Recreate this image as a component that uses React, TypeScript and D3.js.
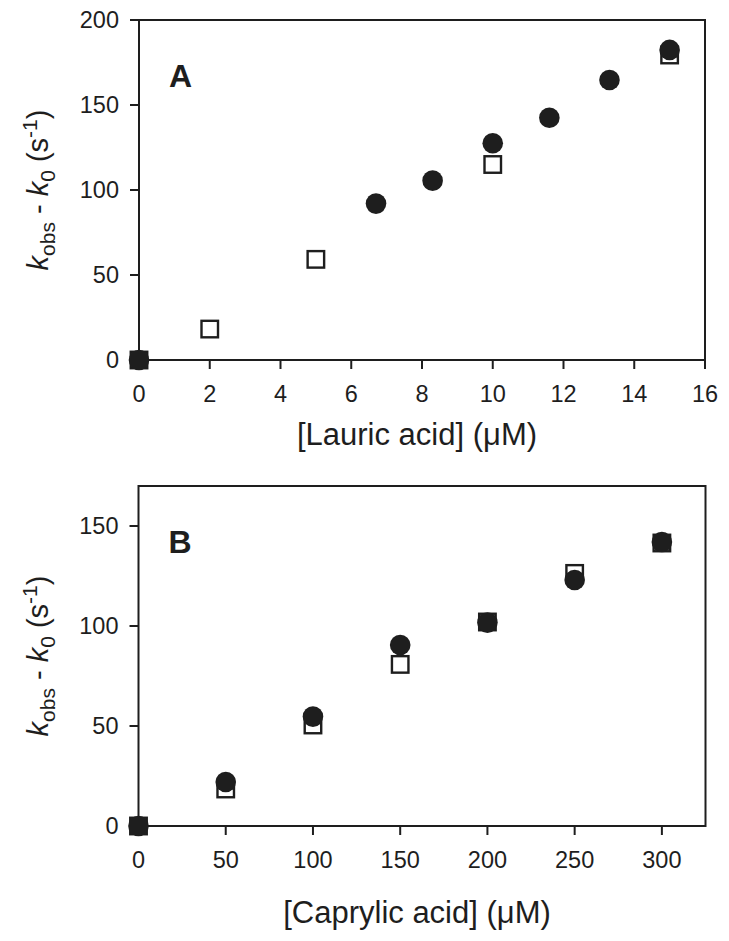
import React from "react";
import * as d3 from "d3";

const lauricCircleX = [0, 6.7, 8.3, 10, 11.6, 13.3, 15];
const lauricCircleY = [0, 92, 105.5, 127.5, 142.5, 164.7, 182.4];
const lauricSquareX = [0, 2, 5, 10, 15];
const lauricSquareY = [0, 18.2, 59.2, 115, 179.4];
const lauricXTicks = [0, 2, 4, 6, 8, 10, 12, 14, 16];
const lauricYTicks = [0, 50, 100, 150, 200];

const caprylicX = [0, 50, 100, 150, 200, 250, 300];
const caprylicCircleY = [0, 22, 54.7, 90.5, 101.7, 123, 142];
const caprylicSquareY = [0, 18.5, 50.5, 80.8, 102, 126.3, 141.5];
const caprylicXTicks = [0, 50, 100, 150, 200, 250, 300];
const caprylicYTicks = [0, 50, 100, 150];

const INK = "#1e1e1e";
const FONT = "'Liberation Sans', Arial, Helvetica, sans-serif";

type PanelProps = {
  label: string;
  xDomain: [number, number];
  yDomain: [number, number];
  xRange: [number, number];
  yRange: [number, number];
  xTicks: number[];
  yTicks: number[];
  circlesX: number[];
  circlesY: number[];
  squaresX: number[];
  squaresY: number[];
  xTitle: string;
  xTitleY: number;
};

function Panel(p: PanelProps) {
  const x = d3.scaleLinear().domain(p.xDomain).range(p.xRange);
  const y = d3.scaleLinear().domain(p.yDomain).range(p.yRange);
  const [x0, x1] = p.xRange;
  const [yb, yt] = p.yRange;
  const yMid = (yb + yt) / 2;
  const xMid = (x0 + x1) / 2;
  const sq = 16.5;
  return (
    <g fontFamily={FONT} fill={INK}>
      <rect x={x0} y={yt} width={x1 - x0} height={yb - yt} fill="none" stroke={INK} strokeWidth={2} />
      {p.xTicks.map((t) => (
        <g key={"xt" + t}>
          <line x1={x(t)} x2={x(t)} y1={yb} y2={yb + 9} stroke={INK} strokeWidth={2} />
          <text x={x(t)} y={yb + 42} textAnchor="middle" fontSize={23.5}>{t}</text>
        </g>
      ))}
      {p.yTicks.map((t) => (
        <g key={"yt" + t}>
          <line x1={x0 - 9} x2={x0} y1={y(t)} y2={y(t)} stroke={INK} strokeWidth={2} />
          <text x={x0 - 20} y={y(t) + 8} textAnchor="end" fontSize={23.5}>{t}</text>
        </g>
      ))}
      {p.squaresX.map((v, i) => (
        <rect key={"s" + i} x={x(v) - sq / 2} y={y(p.squaresY[i]) - sq / 2} width={sq} height={sq}
          fill="#fff" stroke={INK} strokeWidth={2.4} />
      ))}
      {p.circlesX.map((v, i) => (
        <circle key={"c" + i} cx={x(v)} cy={y(p.circlesY[i])} r={10.3} fill={INK} />
      ))}
      <text x={x0 + 30} y={yt + 67} fontSize={32} fontWeight="bold">{p.label}</text>
      <text x={xMid - 5} y={p.xTitleY} textAnchor="middle" fontSize={31}>{p.xTitle}</text>
      <text transform={`translate(48,${yMid}) rotate(-90)`} textAnchor="middle" fontSize={29}>
        <tspan fontStyle="italic">k</tspan>
        <tspan fontSize={21} dy={7}>obs</tspan>
        <tspan dy={-7}> - </tspan>
        <tspan fontStyle="italic">k</tspan>
        <tspan fontSize={21} dy={7}>0</tspan>
        <tspan dy={-7}> (s</tspan>
        <tspan fontSize={21} dy={-11}>-1</tspan>
        <tspan dy={11}>)</tspan>
      </text>
    </g>
  );
}

export default function App() {
  return (
    <svg width={729} height={941} style={{ position: "absolute", left: 0, top: 0, background: "#fff" }}>
      <rect width={729} height={941} fill="#fff" />
      <Panel
        label="A"
        xDomain={[0, 16]}
        yDomain={[0, 200]}
        xRange={[139, 705]}
        yRange={[360, 20]}
        xTicks={lauricXTicks}
        yTicks={lauricYTicks}
        circlesX={lauricCircleX}
        circlesY={lauricCircleY}
        squaresX={lauricSquareX}
        squaresY={lauricSquareY}
        xTitle="[Lauric acid] (μM)"
        xTitleY={445}
      />
      <Panel
        label="B"
        xDomain={[0, 325]}
        yDomain={[0, 170]}
        xRange={[138.5, 705.5]}
        yRange={[826, 486]}
        xTicks={caprylicXTicks}
        yTicks={caprylicYTicks}
        circlesX={caprylicX}
        circlesY={caprylicCircleY}
        squaresX={caprylicX}
        squaresY={caprylicSquareY}
        xTitle="[Caprylic acid] (μM)"
        xTitleY={923}
      />
    </svg>
  );
}
